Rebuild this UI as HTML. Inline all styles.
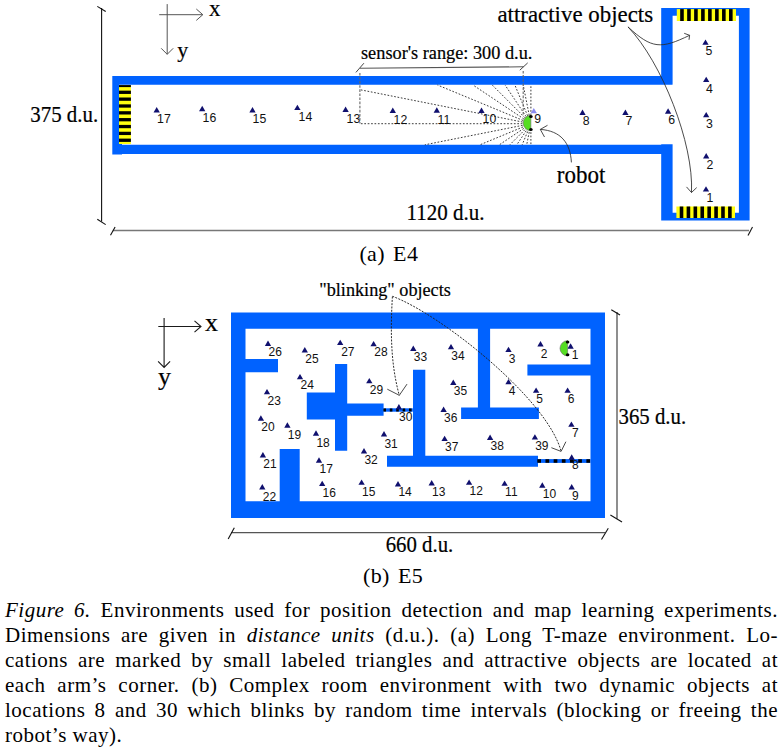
<!DOCTYPE html>
<html><head><meta charset="utf-8"><style>
html,body{margin:0;padding:0;background:#fff;width:783px;height:754px;overflow:hidden}
svg{position:absolute;left:0;top:0}
.l4{font-family:"Liberation Sans",sans-serif;font-size:12.3px;fill:#111}
.l5{font-family:"Liberation Sans",sans-serif;font-size:12px;fill:#111}
.ray{stroke:#333;stroke-width:0.95;stroke-dasharray:1.7 1.7;fill:none}
.vdash{stroke:#666;stroke-width:1.1;stroke-dasharray:2.6 1.5}
.ax{stroke:#333;stroke-width:1.1;fill:none}
.cv{stroke:#2a2a2a;stroke-width:0.85;fill:none}
.dcv{stroke:#222;stroke-width:0.95;fill:none;stroke-dasharray:2 1.3}
.ser{font-family:"Liberation Serif",serif;fill:#000;stroke:#000;stroke-width:0.2px}
.cap{position:absolute;left:5px;width:773px;font-family:"Liberation Serif",serif;font-size:21px;line-height:25px;letter-spacing:0.5px;text-align:justify;text-align-last:justify;white-space:nowrap;color:#000}
</style></head><body>
<svg width="783" height="754" viewBox="0 0 783 754">
<path d="M112.30,76.00H672.50V84.80H112.30ZM112.30,144.70H672.50V153.90H112.30ZM112.30,76.00H119.00V154.40H112.30ZM112.30,144.00H122.00V154.40H112.30ZM661.20,8.00H672.60V84.30H661.20ZM661.20,144.20H672.60V220.60H661.20ZM738.90,8.00H749.60V220.60H738.90ZM661.30,8.00H749.60V15.70H661.30ZM661.30,212.80H749.60V220.60H661.30Z" fill="#0062ff"/>
<rect x="676.80" y="9.10" width="59.20" height="11.90" fill="#ffff10"/>
<rect x="680.18" y="9.10" width="3.60" height="11.90" fill="#000"/>
<rect x="687.16" y="9.10" width="3.60" height="11.90" fill="#000"/>
<rect x="694.13" y="9.10" width="3.60" height="11.90" fill="#000"/>
<rect x="701.11" y="9.10" width="3.60" height="11.90" fill="#000"/>
<rect x="708.09" y="9.10" width="3.60" height="11.90" fill="#000"/>
<rect x="715.07" y="9.10" width="3.60" height="11.90" fill="#000"/>
<rect x="722.04" y="9.10" width="3.60" height="11.90" fill="#000"/>
<rect x="729.02" y="9.10" width="3.60" height="11.90" fill="#000"/>
<rect x="676.40" y="206.50" width="58.60" height="11.50" fill="#ffff10"/>
<rect x="679.71" y="206.50" width="3.60" height="11.50" fill="#000"/>
<rect x="686.62" y="206.50" width="3.60" height="11.50" fill="#000"/>
<rect x="693.53" y="206.50" width="3.60" height="11.50" fill="#000"/>
<rect x="700.44" y="206.50" width="3.60" height="11.50" fill="#000"/>
<rect x="707.36" y="206.50" width="3.60" height="11.50" fill="#000"/>
<rect x="714.27" y="206.50" width="3.60" height="11.50" fill="#000"/>
<rect x="721.18" y="206.50" width="3.60" height="11.50" fill="#000"/>
<rect x="728.09" y="206.50" width="3.60" height="11.50" fill="#000"/>
<rect x="119.00" y="85.10" width="11.90" height="58.90" fill="#ffff10"/>
<rect x="119.00" y="85.10" width="11.90" height="2.00" fill="#000"/>
<rect x="119.00" y="90.65" width="11.90" height="3.30" fill="#000"/>
<rect x="119.00" y="97.50" width="11.90" height="3.30" fill="#000"/>
<rect x="119.00" y="104.35" width="11.90" height="3.30" fill="#000"/>
<rect x="119.00" y="111.20" width="11.90" height="3.30" fill="#000"/>
<rect x="119.00" y="118.05" width="11.90" height="3.30" fill="#000"/>
<rect x="119.00" y="124.90" width="11.90" height="3.30" fill="#000"/>
<rect x="119.00" y="131.75" width="11.90" height="3.30" fill="#000"/>
<rect x="119.00" y="138.60" width="11.90" height="3.30" fill="#000"/>
<line x1="530.90" y1="115.20" x2="530.90" y2="85.00" class="ray"/>
<line x1="529.24" y1="115.36" x2="523.20" y2="85.00" class="ray"/>
<line x1="527.65" y1="115.85" x2="514.87" y2="85.00" class="ray"/>
<line x1="526.18" y1="116.63" x2="505.04" y2="85.00" class="ray"/>
<line x1="524.89" y1="117.69" x2="492.20" y2="85.00" class="ray"/>
<line x1="523.83" y1="118.98" x2="472.98" y2="85.00" class="ray"/>
<line x1="523.05" y1="120.45" x2="437.47" y2="85.00" class="ray"/>
<line x1="522.56" y1="122.04" x2="359.90" y2="89.69" class="ray"/>
<line x1="522.40" y1="123.70" x2="359.90" y2="123.70" class="ray"/>
<line x1="522.56" y1="125.36" x2="424.82" y2="144.80" class="ray"/>
<line x1="523.05" y1="126.95" x2="479.96" y2="144.80" class="ray"/>
<line x1="523.83" y1="128.42" x2="499.32" y2="144.80" class="ray"/>
<line x1="524.89" y1="129.71" x2="509.80" y2="144.80" class="ray"/>
<line x1="526.18" y1="130.77" x2="516.80" y2="144.80" class="ray"/>
<line x1="527.65" y1="131.55" x2="522.16" y2="144.80" class="ray"/>
<line x1="529.24" y1="132.04" x2="526.70" y2="144.80" class="ray"/>
<line x1="530.90" y1="132.20" x2="530.90" y2="144.80" class="ray"/>
<path d="M153.55,112.50L156.70,107.10L159.85,112.50Z" fill="#10106e"/>
<text transform="translate(157.10,123.00) scale(1,1.1)" class="l4">17</text>
<path d="M199.05,111.20L202.20,105.80L205.35,111.20Z" fill="#10106e"/>
<text transform="translate(202.60,121.70) scale(1,1.1)" class="l4">16</text>
<path d="M249.35,112.50L252.50,107.10L255.65,112.50Z" fill="#10106e"/>
<text transform="translate(252.60,122.70) scale(1,1.1)" class="l4">15</text>
<path d="M294.25,110.10L297.40,104.70L300.55,110.10Z" fill="#10106e"/>
<text transform="translate(298.60,120.90) scale(1,1.1)" class="l4">14</text>
<path d="M342.45,111.90L345.60,106.50L348.75,111.90Z" fill="#10106e"/>
<text transform="translate(346.60,122.90) scale(1,1.1)" class="l4">13</text>
<path d="M389.65,112.90L392.80,107.50L395.95,112.90Z" fill="#10106e"/>
<text transform="translate(393.60,123.70) scale(1,1.1)" class="l4">12</text>
<path d="M433.65,112.70L436.80,107.30L439.95,112.70Z" fill="#10106e"/>
<text transform="translate(437.60,123.70) scale(1,1.1)" class="l4">11</text>
<path d="M478.35,112.90L481.50,107.50L484.65,112.90Z" fill="#10106e"/>
<text transform="translate(482.60,123.30) scale(1,1.1)" class="l4">10</text>
<path d="M579.35,114.90L582.50,109.50L585.65,114.90Z" fill="#10106e"/>
<text transform="translate(582.80,125.20) scale(1,1.1)" class="l4">8</text>
<path d="M622.25,114.90L625.40,109.50L628.55,114.90Z" fill="#10106e"/>
<text transform="translate(625.60,125.20) scale(1,1.1)" class="l4">7</text>
<path d="M664.95,113.70L668.10,108.30L671.25,113.70Z" fill="#10106e"/>
<text transform="translate(668.20,124.00) scale(1,1.1)" class="l4">6</text>
<path d="M703.05,117.30L706.20,111.90L709.35,117.30Z" fill="#10106e"/>
<text transform="translate(706.10,128.10) scale(1,1.1)" class="l4">3</text>
<path d="M703.05,82.10L706.20,76.70L709.35,82.10Z" fill="#10106e"/>
<text transform="translate(706.10,92.90) scale(1,1.1)" class="l4">4</text>
<path d="M702.35,44.80L705.50,39.40L708.65,44.80Z" fill="#10106e"/>
<text transform="translate(705.40,54.50) scale(1,1.1)" class="l4">5</text>
<path d="M703.05,158.40L706.20,153.00L709.35,158.40Z" fill="#10106e"/>
<text transform="translate(706.50,168.50) scale(1,1.1)" class="l4">2</text>
<path d="M702.85,191.60L706.00,186.20L709.15,191.60Z" fill="#10106e"/>
<text transform="translate(706.50,201.50) scale(1,1.1)" class="l4">1</text>
<path d="M530.65,113.30L533.80,107.90L536.95,113.30Z" fill="#8a8af0"/>
<text transform="translate(534.30,123.30) scale(1,1.1)" class="l4">9</text>
<path d="M530.90,115.30A7.7,7.7 0 0 0 530.90,130.70Z" fill="#55dd22" stroke="#666" stroke-width="0.6"/>
<ellipse cx="530.90" cy="116.50" rx="1.8" ry="1.5" fill="#000"/>
<ellipse cx="530.90" cy="129.50" rx="1.8" ry="1.5" fill="#000"/>
<line x1="101.6" y1="8" x2="101.6" y2="221.5" stroke="#111" stroke-width="1.1"/>
<line x1="97.3" y1="6.4" x2="105.7" y2="11.5" stroke="#111" stroke-width="1.1"/>
<line x1="97.3" y1="219.2" x2="105.7" y2="224.6" stroke="#111" stroke-width="1.1"/>
<line x1="112.8" y1="230.6" x2="749" y2="230.6" stroke="#777" stroke-width="1.5"/>
<line x1="110.5" y1="235.3" x2="115.1" y2="226.9" stroke="#111" stroke-width="1.1"/>
<line x1="748" y1="235.5" x2="752.5" y2="227" stroke="#111" stroke-width="1.1"/>
<line x1="359.9" y1="68.2" x2="523.5" y2="66.8" stroke="#555" stroke-width="1.1"/>
<line x1="355.9" y1="72.4" x2="363.9" y2="63.2" stroke="#333" stroke-width="0.9"/>
<line x1="519.8" y1="70.2" x2="527.7" y2="62.9" stroke="#333" stroke-width="0.9"/>
<line x1="359.9" y1="72.9" x2="359.9" y2="123.6" class="vdash"/>
<line x1="523.2" y1="71" x2="523.2" y2="115" class="vdash"/>
<path d="M159.2,14.7H202.8M196.3,9.0L202.8,14.7L196.3,20.4M167.2,4.1V54.3M161.2,48.3L167.2,54.3L173.2,48.3" fill="none" stroke="#555" stroke-width="1.0"/>
<path d="M571.4,162.4C570.33,142.64 560.66,130.86 540.3,129.4M547.5,125.3L540.3,129.4L544.5,137" class="cv"/>
<path d="M628,26.9C651.86,49.1 660.95,49.13 689.6,35.3M684.2,33.3L689.6,35.3L689,39.8" class="cv"/>
<path d="M628,26.9C661.8,62.2 693.9,143.5 691.5,192.5M686.5,186.9L691.5,192.5L696.7,187.6" class="cv"/>
<path d="M231.00,312.60H605.00V328.80H231.00ZM231.00,501.20H605.00V518.00H231.00ZM231.00,312.60H245.50V518.00H231.00ZM590.50,312.60H605.00V518.00H590.50ZM245.50,359.00H278.00V372.30H245.50ZM335.00,363.90H347.20V450.70H335.00ZM306.80,392.50H335.00V419.50H306.80ZM347.20,403.50H383.60V415.80H347.20ZM413.00,369.80H425.30V456.30H413.00ZM387.00,455.80H538.00V466.80H387.00ZM279.70,449.00H299.70V501.20H279.70ZM477.90,328.70H490.10V408.00H477.90ZM461.10,407.60H538.90V419.10H461.10ZM527.40,364.40H590.60V375.40H527.40Z" fill="#0062ff"/>
<rect x="383.40" y="408.30" width="29.40" height="3.40" fill="#0062ff"/>
<line x1="383.40" y1="410.00" x2="412.80" y2="410.00" stroke="#000" stroke-width="3.0" stroke-dasharray="2.6 3.8"/>
<rect x="537.30" y="459.10" width="53.20" height="3.80" fill="#0062ff"/>
<line x1="537.30" y1="461.00" x2="590.50" y2="461.00" stroke="#000" stroke-width="3.4" stroke-dasharray="3.7 4.48"/>
<path d="M264.85,345.90L268.00,340.50L271.15,345.90Z" fill="#10106e"/>
<text transform="translate(268.50,355.90) scale(1,1.05)" class="l5">26</text>
<path d="M301.65,352.50L304.80,347.10L307.95,352.50Z" fill="#10106e"/>
<text transform="translate(305.30,362.80) scale(1,1.05)" class="l5">25</text>
<path d="M337.05,345.10L340.20,339.70L343.35,345.10Z" fill="#10106e"/>
<text transform="translate(341.20,355.50) scale(1,1.05)" class="l5">27</text>
<path d="M370.45,346.30L373.60,340.90L376.75,346.30Z" fill="#10106e"/>
<text transform="translate(374.30,356.00) scale(1,1.05)" class="l5">28</text>
<path d="M410.15,350.90L413.30,345.50L416.45,350.90Z" fill="#10106e"/>
<text transform="translate(413.80,360.80) scale(1,1.05)" class="l5">33</text>
<path d="M447.85,349.30L451.00,343.90L454.15,349.30Z" fill="#10106e"/>
<text transform="translate(451.30,360.10) scale(1,1.05)" class="l5">34</text>
<path d="M505.35,352.10L508.50,346.70L511.65,352.10Z" fill="#10106e"/>
<text transform="translate(508.80,363.20) scale(1,1.05)" class="l5">3</text>
<path d="M537.35,346.40L540.50,341.00L543.65,346.40Z" fill="#10106e"/>
<text transform="translate(540.80,357.50) scale(1,1.05)" class="l5">2</text>
<path d="M567.45,348.70L570.60,343.30L573.75,348.70Z" fill="#10106e"/>
<text transform="translate(571.80,359.00) scale(1,1.05)" class="l5">1</text>
<path d="M296.85,379.30L300.00,373.90L303.15,379.30Z" fill="#10106e"/>
<text transform="translate(300.50,389.00) scale(1,1.05)" class="l5">24</text>
<path d="M366.15,383.30L369.30,377.90L372.45,383.30Z" fill="#10106e"/>
<text transform="translate(369.80,394.00) scale(1,1.05)" class="l5">29</text>
<path d="M450.15,385.00L453.30,379.60L456.45,385.00Z" fill="#10106e"/>
<text transform="translate(453.80,395.40) scale(1,1.05)" class="l5">35</text>
<path d="M505.35,384.30L508.50,378.90L511.65,384.30Z" fill="#10106e"/>
<text transform="translate(508.80,394.70) scale(1,1.05)" class="l5">4</text>
<path d="M532.95,392.80L536.10,387.40L539.25,392.80Z" fill="#10106e"/>
<text transform="translate(536.30,403.00) scale(1,1.05)" class="l5">5</text>
<path d="M564.45,392.80L567.60,387.40L570.75,392.80Z" fill="#10106e"/>
<text transform="translate(567.80,403.00) scale(1,1.05)" class="l5">6</text>
<path d="M263.85,394.30L267.00,388.90L270.15,394.30Z" fill="#10106e"/>
<text transform="translate(267.50,404.50) scale(1,1.05)" class="l5">23</text>
<path d="M395.75,409.50L398.90,404.10L402.05,409.50Z" fill="#10106e"/>
<text transform="translate(399.10,420.50) scale(1,1.05)" class="l5">30</text>
<path d="M440.45,411.90L443.60,406.50L446.75,411.90Z" fill="#10106e"/>
<text transform="translate(444.00,422.20) scale(1,1.05)" class="l5">36</text>
<path d="M568.25,426.80L571.40,421.40L574.55,426.80Z" fill="#10106e"/>
<text transform="translate(572.00,437.40) scale(1,1.05)" class="l5">7</text>
<path d="M257.75,420.70L260.90,415.30L264.05,420.70Z" fill="#10106e"/>
<text transform="translate(261.30,431.00) scale(1,1.05)" class="l5">20</text>
<path d="M284.25,427.70L287.40,422.30L290.55,427.70Z" fill="#10106e"/>
<text transform="translate(287.80,438.80) scale(1,1.05)" class="l5">19</text>
<path d="M312.85,435.70L316.00,430.30L319.15,435.70Z" fill="#10106e"/>
<text transform="translate(316.40,446.50) scale(1,1.05)" class="l5">18</text>
<path d="M380.85,436.50L384.00,431.10L387.15,436.50Z" fill="#10106e"/>
<text transform="translate(384.40,447.70) scale(1,1.05)" class="l5">31</text>
<path d="M441.45,441.10L444.60,435.70L447.75,441.10Z" fill="#10106e"/>
<text transform="translate(445.00,451.00) scale(1,1.05)" class="l5">37</text>
<path d="M486.95,439.90L490.10,434.50L493.25,439.90Z" fill="#10106e"/>
<text transform="translate(490.50,450.00) scale(1,1.05)" class="l5">38</text>
<path d="M531.75,439.60L534.90,434.20L538.05,439.60Z" fill="#10106e"/>
<text transform="translate(535.20,450.30) scale(1,1.05)" class="l5">39</text>
<path d="M259.75,457.50L262.90,452.10L266.05,457.50Z" fill="#10106e"/>
<text transform="translate(263.30,468.00) scale(1,1.05)" class="l5">21</text>
<path d="M315.85,462.70L319.00,457.30L322.15,462.70Z" fill="#10106e"/>
<text transform="translate(319.50,473.20) scale(1,1.05)" class="l5">17</text>
<path d="M360.85,453.40L364.00,448.00L367.15,453.40Z" fill="#10106e"/>
<text transform="translate(364.40,464.20) scale(1,1.05)" class="l5">32</text>
<path d="M568.55,459.70L571.70,454.30L574.85,459.70Z" fill="#10106e"/>
<text transform="translate(572.10,469.40) scale(1,1.05)" class="l5">8</text>
<path d="M259.15,489.50L262.30,484.10L265.45,489.50Z" fill="#10106e"/>
<text transform="translate(262.80,500.50) scale(1,1.05)" class="l5">22</text>
<path d="M319.05,486.10L322.20,480.70L325.35,486.10Z" fill="#10106e"/>
<text transform="translate(322.60,497.00) scale(1,1.05)" class="l5">16</text>
<path d="M358.45,484.80L361.60,479.40L364.75,484.80Z" fill="#10106e"/>
<text transform="translate(362.00,495.60) scale(1,1.05)" class="l5">15</text>
<path d="M394.85,486.50L398.00,481.10L401.15,486.50Z" fill="#10106e"/>
<text transform="translate(398.40,496.40) scale(1,1.05)" class="l5">14</text>
<path d="M428.55,485.50L431.70,480.10L434.85,485.50Z" fill="#10106e"/>
<text transform="translate(432.10,495.60) scale(1,1.05)" class="l5">13</text>
<path d="M465.95,484.80L469.10,479.40L472.25,484.80Z" fill="#10106e"/>
<text transform="translate(469.50,495.00) scale(1,1.05)" class="l5">12</text>
<path d="M501.45,485.80L504.60,480.40L507.75,485.80Z" fill="#10106e"/>
<text transform="translate(505.10,496.30) scale(1,1.05)" class="l5">11</text>
<path d="M539.15,487.70L542.30,482.30L545.45,487.70Z" fill="#10106e"/>
<text transform="translate(542.80,497.70) scale(1,1.05)" class="l5">10</text>
<path d="M568.55,489.40L571.70,484.00L574.85,489.40Z" fill="#10106e"/>
<text transform="translate(572.10,499.70) scale(1,1.05)" class="l5">9</text>
<path d="M567.60,340.70A7.6,7.6 0 0 0 567.60,355.90Z" fill="#55dd22" stroke="#666" stroke-width="0.6"/>
<ellipse cx="567.60" cy="341.90" rx="1.8" ry="1.5" fill="#000"/>
<ellipse cx="567.60" cy="354.70" rx="1.8" ry="1.5" fill="#000"/>
<path d="M158.3,326.5H201M194.5,320.8L201,326.5L194.5,332.2M164.1,317.9V367.4M158.1,361.4L164.1,367.4L170.1,361.4" fill="none" stroke="#1a1a1a" stroke-width="1.1"/>
<line x1="617" y1="312" x2="617" y2="518.7" stroke="#444" stroke-width="1.2"/>
<line x1="611.3" y1="309.7" x2="620" y2="315" stroke="#111" stroke-width="1.1"/>
<line x1="610.4" y1="515" x2="622" y2="522" stroke="#111" stroke-width="1.1"/>
<line x1="231" y1="532.7" x2="605" y2="532.7" stroke="#555" stroke-width="1.2"/>
<line x1="228.2" y1="539" x2="234.3" y2="527.7" stroke="#111" stroke-width="1.1"/>
<line x1="601.5" y1="539.5" x2="608.3" y2="528.3" stroke="#111" stroke-width="1.1"/>
<path d="M392.4,296.6C390.5,329.5 390.4,363.25 399.3,395.3" class="dcv"/>
<path d="M387.3,389.2L399.3,395.3L407,384.1" class="cv"/>
<path d="M392.4,296.3C440.72,314.28 547.39,398.97 561.1,451.4" class="dcv"/>
<path d="M551.4,447.7L561.1,451.4L565.9,441.7" class="cv"/>
<text class="ser" transform="translate(209,16) scale(1,1.0)" font-size="23" >x</text>
<text class="ser" transform="translate(177.3,57.2) scale(1,0.97)" font-size="22" >y</text>
<text class="ser" transform="translate(205,331) scale(1,1.0)" font-size="26" >x</text>
<text class="ser" transform="translate(158,385) scale(1,1.0)" font-size="26" >y</text>
<text class="ser" transform="translate(30.3,122.3) scale(1,1.12)" font-size="20.9" >375 d.u.</text>
<text class="ser" transform="translate(406.5,220.0) scale(1,1.07)" font-size="21.0" >1120 d.u.</text>
<text class="ser" transform="translate(361,59.2) scale(1,1.08)" font-size="18.3" >sensor's range: 300 d.u.</text>
<text class="ser" transform="translate(497.4,21.8) scale(1,1.03)" font-size="22.9" >attractive objects</text>
<text class="ser" transform="translate(556.8,182.6) scale(1,1.08)" font-size="23.0" >robot</text>
<text class="ser" transform="translate(319.3,295.6) scale(1,1.09)" font-size="18.2" >"blinking" objects</text>
<text class="ser" transform="translate(618.5,423.7) scale(1,1.1)" font-size="20.8" >365 d.u.</text>
<text class="ser" transform="translate(385.7,552.2) scale(1,1.1)" font-size="20.8" >660 d.u.</text>
<text class="ser" transform="translate(359.4,260.9) scale(1,1.0)" font-size="22" letter-spacing="0.35" word-spacing="2.4" style="stroke:none">(a) E4</text>
<text class="ser" transform="translate(363,582.8) scale(1,1.0)" font-size="22" letter-spacing="0.35" word-spacing="2.4" style="stroke:none">(b) E5</text>
</svg>
<div class="cap" style="top:598px"><i>Figure 6.</i> Environments used for position detection and map learning experiments.</div>
<div class="cap" style="top:623px">Dimensions are given in <i>distance units</i> (d.u.). (a) Long T-maze environment. Lo-</div>
<div class="cap" style="top:648px">cations are marked by small labeled triangles and attractive objects are located at</div>
<div class="cap" style="top:673px">each arm’s corner. (b) Complex room environment with two dynamic objects at</div>
<div class="cap" style="top:698px">locations 8 and 30 which blinks by random time intervals (blocking or freeing the</div>
<div class="cap" style="top:723px;text-align-last:left">robot’s way).</div>
</body></html>
